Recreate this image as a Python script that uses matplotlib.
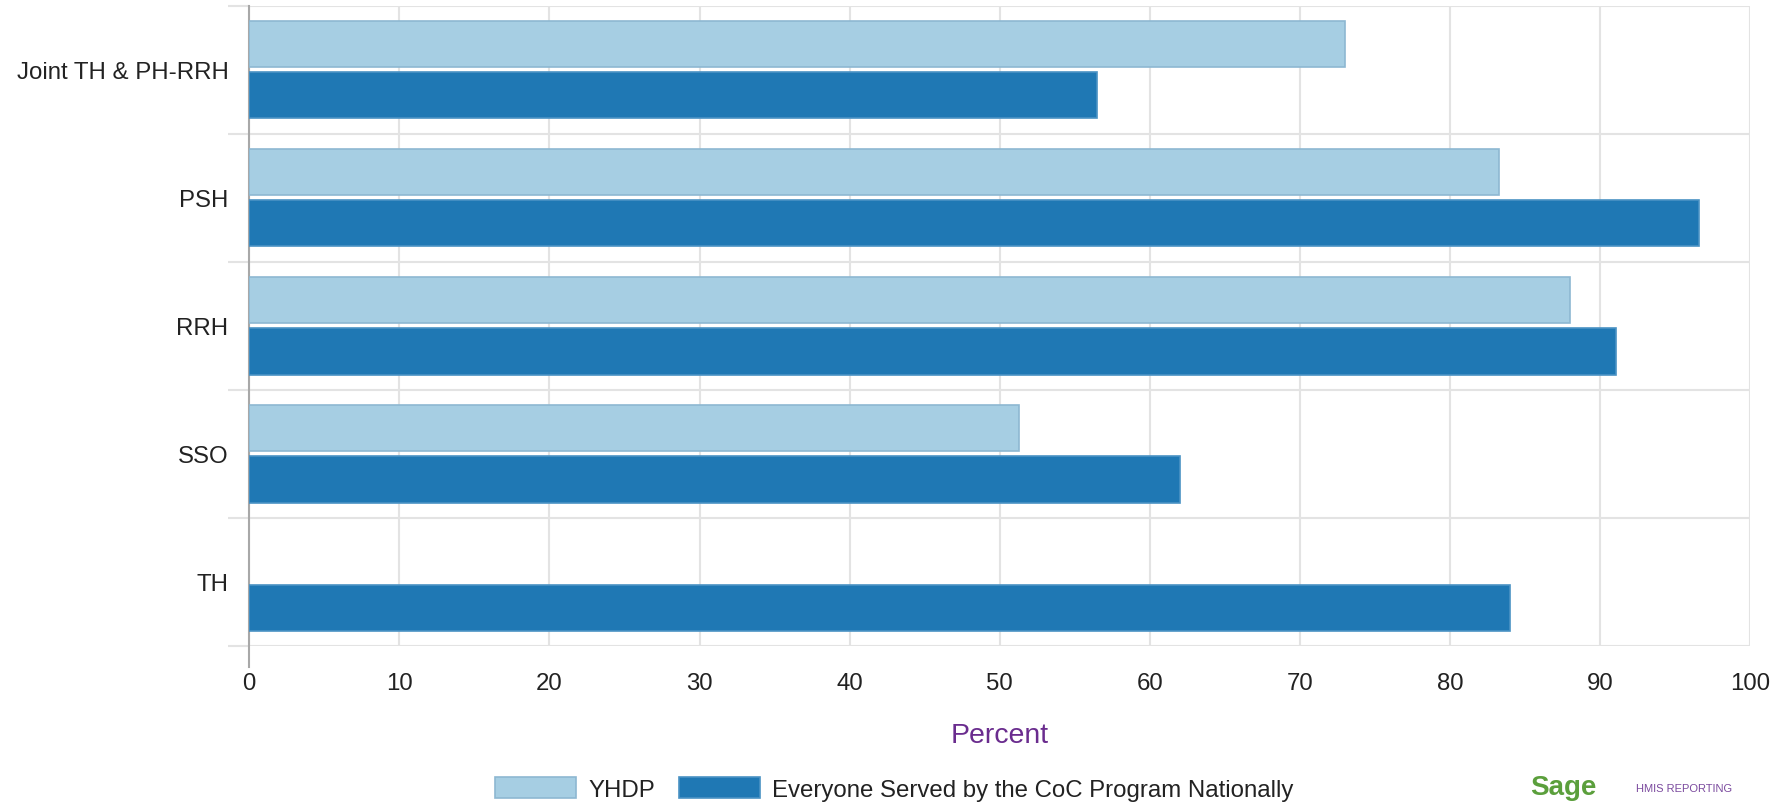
import numpy as np
import matplotlib
matplotlib.use('Agg')
import matplotlib.pyplot as plt

plt.rcParams['font.family'] = ['Liberation Sans', 'DejaVu Sans']

categories = ['Joint TH & PH-RRH', 'PSH', 'RRH', 'SSO', 'TH']
yhdp = [73.0, 83.3, 88.0, 51.3, np.nan]
everyone = [56.5, 96.6, 91.1, 62.0, 84.0]
series_names = ['YHDP', 'Everyone Served by the CoC Program Nationally']
xticks = [0, 10, 20, 30, 40, 50, 60, 70, 80, 90, 100]

light = '#a6cee3'
dark = '#1f78b4'
grid_c = '#e3e3e3'
text_c = '#222222'

fig = plt.figure(figsize=(17.81, 8.04), dpi=100)
ax = fig.add_axes([0.13998, 0.19527, 0.84261, 0.7964])

y = np.arange(len(categories))
b1 = ax.barh(y - 0.2, yhdp, height=0.36, color=light, edgecolor='#8db8d2',
             linewidth=1.2, label=series_names[0], zorder=3)
b2 = ax.barh(y + 0.2, everyone, height=0.36, color=dark, edgecolor='#4a92c4',
             linewidth=1.2, label=series_names[1], zorder=3)

ax.set_xlim(0, 100)
ax.set_ylim(len(categories) - 0.5, -0.5)

# x axis
ax.set_xticks(xticks)
ax.set_xticklabels([str(t) for t in xticks])
ax.tick_params(axis='x', length=0, pad=19, labelsize=17.3, labelcolor=text_c)
ax.grid(True, axis='x', color=grid_c, linewidth=1.5, zorder=0)

# y axis: ticks + grid at category boundaries, labels at centers
ax.set_yticks(np.arange(-0.5, len(categories), 1.0))
ax.set_yticklabels([])
ax.set_yticks(y, minor=True)
ax.set_yticklabels(categories, minor=True)
ax.tick_params(axis='y', which='major', length=15, width=1.5, color=grid_c)
ax.tick_params(axis='y', which='minor', length=0, pad=15, labelsize=17.3,
               labelcolor=text_c)
ax.grid(True, axis='y', which='major', color=grid_c, linewidth=1.5, zorder=0)
ax.set_axisbelow(True)

for s in ['top', 'right', 'bottom']:
    ax.spines[s].set_visible(False)
ax.spines['left'].set_color('#a8a8a8')
ax.spines['left'].set_linewidth(1.5)
ax.spines['left'].set_bounds(-0.5, len(categories) - 0.5 + 0.164)

ax.set_xlabel('Percent', fontsize=20.5, color='#6a2c8e')
ax.xaxis.set_label_coords(0.5, -0.139)
ax.xaxis.label.set_va('center')

leg = fig.legend(handles=[b1, b2], loc='center', bbox_to_anchor=(0.502, 0.018),
                 ncol=2, frameon=False, fontsize=17.3, handlelength=3.37,
                 handleheight=1.0, handletextpad=0.5, columnspacing=1.0,
                 borderpad=0, borderaxespad=0)
for t in leg.get_texts():
    t.set_color(text_c)

# logo
fig.text(1530 / 1781, 0.004, 'Sage', fontsize=20, fontweight='bold',
         color='#5b9f3c', ha='left', va='bottom')
fig.text(1636 / 1781, 0.012, 'HMIS REPORTING', fontsize=8,
         color='#7b4a9e', ha='left', va='bottom')

fig.savefig('out.png', dpi=100)
